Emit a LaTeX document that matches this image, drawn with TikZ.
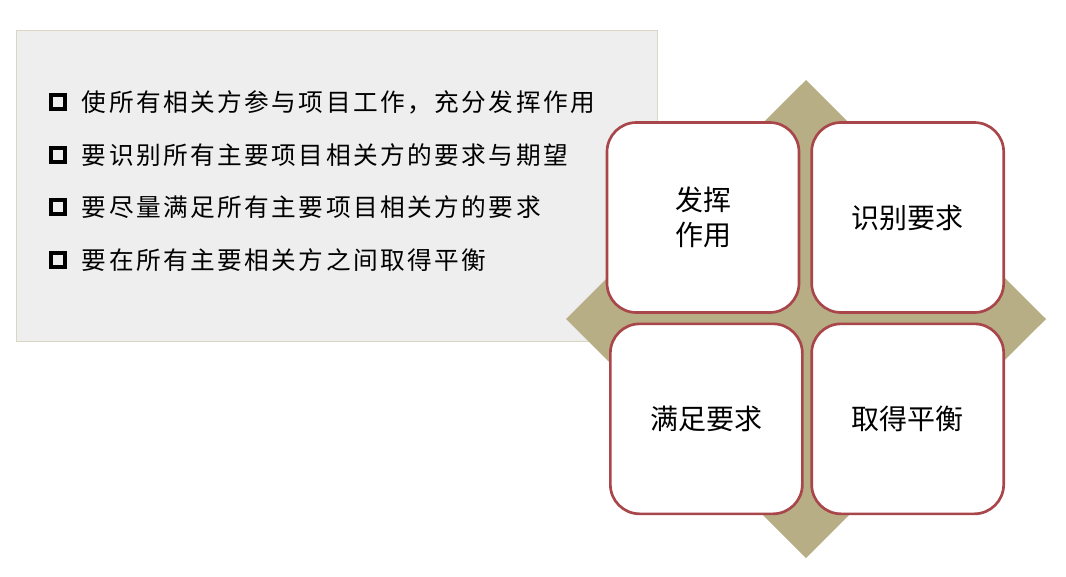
\documentclass[tikz,border=0pt]{standalone}
\usepackage{fontspec}
\newfontfamily\cjk{Noto Sans CJK SC}
\newfontfamily\cjklist[LetterSpace=10]{Noto Sans CJK SC}
\usetikzlibrary{positioning}
\definecolor{panelgray}{HTML}{EEEEEE}
\definecolor{panelline}{HTML}{D9D6C3}
\definecolor{khaki}{HTML}{B8AE86}
\definecolor{boxred}{HTML}{A9464A}
\tikzset{
  panel/.style={fill=panelgray, draw=panelline, line width=0.75pt, inner sep=0pt,
    minimum width=480.75pt, minimum height=233.25pt},
  bullet/.style={draw, line width=3pt, minimum size=10.5pt, inner sep=0pt},
  item/.style={font=\cjklist\fontsize{18.5}{18.5}\selectfont, inner sep=0pt},
  quad/.style={draw=boxred, fill=white, line width=2pt, rounded corners=22pt,
    minimum width=144pt, minimum height=142.5pt, align=center,
    font=\cjk\fontsize{21}{26}\selectfont}
}
\begin{document}
\begin{tikzpicture}[x=0.75pt,y=-0.75pt]
  \useasboundingbox (0,0) rectangle (1066,576);

  % Panel
  \node[panel] (panel) at (336.5,185.5) {};

  % List
  \node[bullet]                       (b1) at (58,102) {};
  \node[bullet, below=26pt of b1]     (b2) {};
  \node[bullet, below=26pt of b2]     (b3) {};
  \node[bullet, below=26pt of b3]     (b4) {};
  \node[item, right=11pt of b1]       (t1) {使所有相关方参与项目工作，充分发挥作用};
  \node[item, right=11pt of b2]       (t2) {要识别所有主要项目相关方的要求与期望};
  \node[item, right=11pt of b3]       (t3) {要尽量满足所有主要项目相关方的要求};
  \node[item, right=11pt of b4]       (t4) {要在所有主要相关方之间取得平衡};

  % Diamond
  \coordinate (mid) at (806,319);
  \fill[khaki] (mid) ++(0,-239) -- ++(240,239) -- ++(-240,239) -- ++(-240,-239) -- cycle;

  % Quadrants
  \node[quad]                                   (tl) at (703,217.5) {发挥\\作用};
  \node[quad, right=7.5pt of tl]                (tr) {识别要求};
  \node[quad, below=6.5pt of tl, xshift=2.5pt]  (bl) {满足要求};
  \node[quad, below=6.5pt of tr]                (br) {取得平衡};
\end{tikzpicture}
\end{document}
